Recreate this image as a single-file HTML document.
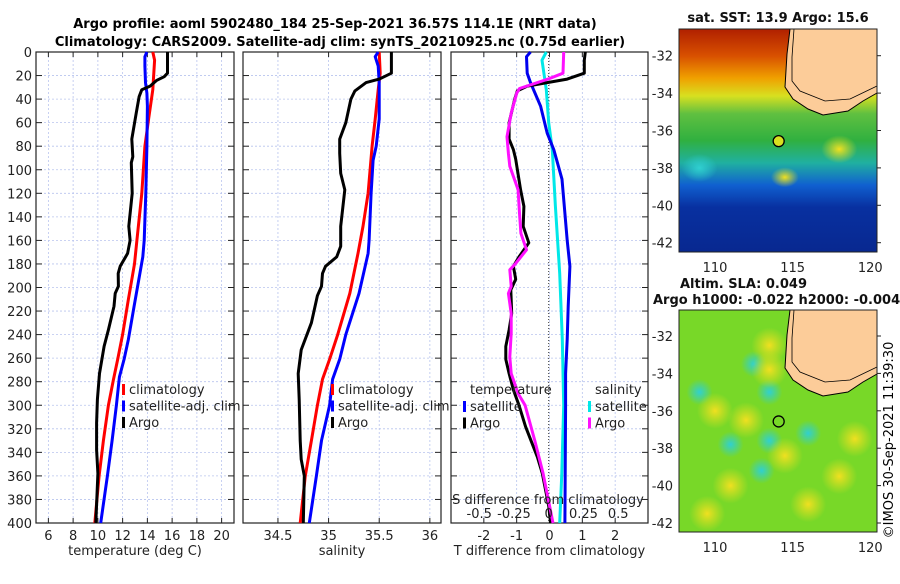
<!DOCTYPE html>
<html><head><meta charset="utf-8"><style>
body{margin:0;background:#fff;width:900px;height:580px;overflow:hidden;font-family:"DejaVu Sans","Liberation Sans",sans-serif}
svg text{font-family:"DejaVu Sans","Liberation Sans",sans-serif}
</style></head><body>
<svg id="c" width="900" height="580" viewBox="0 0 900 580" xmlns="http://www.w3.org/2000/svg">
<defs>
<linearGradient id="sstg" x1="0" y1="0" x2="0" y2="1">
<stop offset="0" stop-color="#b02000"/><stop offset="0.12" stop-color="#d85000"/><stop offset="0.22" stop-color="#f0a000"/><stop offset="0.3" stop-color="#d8e020"/><stop offset="0.38" stop-color="#60c040"/><stop offset="0.5" stop-color="#30b040"/><stop offset="0.6" stop-color="#20b0a0"/><stop offset="0.7" stop-color="#1060d0"/><stop offset="0.8" stop-color="#0830a0"/><stop offset="1" stop-color="#082890"/>
</linearGradient>
<radialGradient id="blobC"><stop offset="0" stop-color="#30d0d0"/><stop offset="1" stop-color="#30d0d0" stop-opacity="0"/></radialGradient>
<radialGradient id="blobY"><stop offset="0" stop-color="#f0e020"/><stop offset="1" stop-color="#e0e020" stop-opacity="0"/></radialGradient>
<radialGradient id="blobG"><stop offset="0" stop-color="#20a860"/><stop offset="1" stop-color="#20a860" stop-opacity="0"/></radialGradient>
</defs>
<text x="335" y="28" text-anchor="middle" font-size="13" font-weight="bold">Argo profile: aoml 5902480_184 25-Sep-2021 36.57S 114.1E (NRT data)</text>
<text x="340" y="46" text-anchor="middle" font-size="13" font-weight="bold">Climatology: CARS2009. Satellite-adj clim: synTS_20210925.nc (0.75d earlier)</text>
<g id="panels"></g>
<g id="maps"></g>
<text transform="translate(893,440) rotate(-90)" text-anchor="middle" font-size="13">©IMOS 30-Sep-2021 11:39:30</text>
</svg>
<script>
const NS="http://www.w3.org/2000/svg";
const depthTicks=[0,20,40,60,80,100,120,140,160,180,200,220,240,260,280,300,320,340,360,380,400];
// temperature (depth, value)
const tClimDepth=[0,7,32,57,80,120,160,180,210,240,261,278,300,330,360,400];
const tClimVal=[14.44,14.58,14.44,14.1,13.8,13.55,13.15,12.96,12.47,12.0,11.6,11.26,10.85,10.45,10.1,9.75];
const tSatDepth=[0,4,12,26,35,46,80,120,160,174,188,216,244,261,276,300,330,360,400];
const tSatVal=[13.96,13.8,13.8,13.85,13.96,14.0,13.96,13.87,13.74,13.63,13.4,12.93,12.47,12.12,11.74,11.5,11.15,10.77,10.23];
const tArgoDepth=[0,18,21,24,29,32,38,52,74,89,94,120,148,160,171,182,188,199,205,216,236,250,273,295,315,338,358,400];
const tArgoVal=[15.63,15.63,15.36,14.76,14.22,13.55,13.33,13.1,12.74,12.82,12.7,12.77,12.5,12.6,12.4,11.8,11.64,11.66,11.4,11.3,10.85,10.5,10.13,9.96,9.9,9.9,10.0,9.83];
// salinity
const sClimDepth=[0,18,32,57,80,120,148,171,205,240,261,278,300,330,360,400];
const sClimVal=[35.5,35.51,35.49,35.46,35.43,35.39,35.34,35.29,35.21,35.09,35.01,34.94,34.89,34.83,34.77,34.72];
const sSatDepth=[0,4,12,26,46,57,80,92,120,160,171,205,240,261,278,300,330,360,400];
const sSatVal=[35.49,35.46,35.49,35.5,35.5,35.5,35.47,35.44,35.42,35.4,35.39,35.3,35.17,35.11,35.04,35.01,34.93,34.88,34.81];
const sArgoDepth=[0,18,23,26,33,40,60,74,86,103,117,148,165,174,182,188,199,207,230,253,273,295,330,346,360,400];
const sArgoVal=[35.62,35.62,35.5,35.37,35.26,35.22,35.17,35.11,35.11,35.12,35.16,35.12,35.12,35.08,34.97,34.94,34.93,34.89,34.83,34.73,34.7,34.71,34.72,34.73,34.76,34.75];
// differences
const dTSatDepth=[0,4,18,26,46,69,83,108,131,160,182,216,244,273,300,400];
const dTSatVal=[-0.58,-0.7,-0.68,-0.58,-0.27,-0.07,0.13,0.38,0.45,0.54,0.62,0.57,0.54,0.49,0.49,0.47];
const dTArgoDepth=[0,7,18,23,29,33,40,60,74,83,91,117,131,148,162,174,182,193,202,222,236,250,261,273,287,300,318,344,358,386,400];
const dTArgoVal=[1.09,1.06,1.06,0.54,-0.68,-0.98,-1.06,-1.23,-1.23,-1.1,-1.03,-0.88,-0.78,-0.8,-0.63,-0.93,-1.1,-1.03,-1.18,-1.15,-1.23,-1.33,-1.33,-1.23,-1.1,-0.93,-0.73,-0.37,-0.22,-0.02,0.03];
const dSSatDepth=[0,7,32,60,83,131,188,244,300,358,400];
const dSSatVal=[-0.017,-0.048,-0.017,0,0.026,0.048,0.079,0.098,0.108,0.094,0.079];
const dSArgoDepth=[0,18,23,31,35,52,72,86,97,117,137,154,168,180,185,199,205,222,239,259,273,290,300,330,358,386,400];
const dSArgoVal=[0.108,0.103,-0.005,-0.21,-0.23,-0.27,-0.3,-0.29,-0.28,-0.22,-0.21,-0.2,-0.16,-0.24,-0.28,-0.27,-0.29,-0.27,-0.27,-0.28,-0.27,-0.22,-0.17,-0.1,-0.04,0.007,0.031];

const Y0=52,Y1=523;
const yS=d=>Y0+(Y1-Y0)*d/400;
function el(p,tag,a){const e=document.createElementNS(NS,tag);for(const k in a)e.setAttribute(k,a[k]);p.appendChild(e);return e;}
const G=document.getElementById('panels');

function panel(name,x0,x1,xmin,xmax,ticks,tickLabels,title,showY){
  const g=el(G,'g',{});
  
  
  const xs=v=>x0+(x1-x0)*(v-xmin)/(xmax-xmin);
  ticks.forEach((t,i)=>{
    const x=xs(t);
    const gl=el(g,'line',{x1:x,x2:x,y1:Y0,y2:Y1,stroke:'#b8c4ee','stroke-width':0.8,'stroke-dasharray':'2,2'});
    
    
    el(g,'line',{x1:x,x2:x,y1:Y1,y2:Y1-5,stroke:'#222'});
    el(g,'line',{x1:x,x2:x,y1:Y0,y2:Y0+5,stroke:'#222'});
    const tx=el(g,'text',{x:x,y:Y1+17,'text-anchor':'middle','font-size':13,fill:'#222'});
    tx.textContent=tickLabels[i];
    
    
  });
  depthTicks.forEach(d=>{
    const y=yS(d);
    el(g,'line',{x1:x0,x2:x1,y1:y,y2:y,stroke:'#b8c4ee','stroke-width':0.8,'stroke-dasharray':'2,2'});
    el(g,'line',{x1:x0,x2:x0+6,y1:y,y2:y,stroke:'#222'});
    el(g,'line',{x1:x1,x2:x1-6,y1:y,y2:y,stroke:'#222'});
    if(showY){const t=el(g,'text',{x:x0-4,y:y+5,'text-anchor':'end','font-size':13,fill:'#222'});t.textContent=d;
      
      }
  });
  el(g,'rect',{x:x0,y:Y0,width:x1-x0,height:Y1-Y0,fill:'none',stroke:'#222','stroke-width':1.2});
  const tt=el(g,'text',{x:(x0+x1)/2,y:555,'text-anchor':'middle','font-size':13,fill:'#222'});
  tt.textContent=title;
  
  
  return {g,xs};
}
function line(p,xs,ds,vs,col,name){
  const pts=ds.map((d,i)=>xs(vs[i]).toFixed(1)+','+yS(d).toFixed(1)).join(' ');
  const l=el(p.g,'polyline',{points:pts,fill:'none',stroke:col,'stroke-width':3,'stroke-linejoin':'round'});
  
  
}
function legend(p,x,y,items){
  items.forEach((it,i)=>{
    const yy=y+i*16.5;
    if(it[1]) el(p.g,'rect',{x:x,y:yy-10,width:3,height:11,fill:it[1]});
    const t=el(p.g,'text',{x:x+(it[1]?7:0),y:yy,'font-size':13,fill:'#222'});t.textContent=it[0];
    
    
  });
}
// Panel 1
const p1=panel('temperature-panel',36,234,5,21,[6,8,10,12,14,16,18,20],['6','8','10','12','14','16','18','20'],'temperature (deg C)',true);
line(p1,p1.xs,tClimDepth,tClimVal,'#ff0000','temp-climatology-line');
line(p1,p1.xs,tSatDepth,tSatVal,'#0000ff','temp-satellite-line');
line(p1,p1.xs,tArgoDepth,tArgoVal,'#000000','temp-argo-line');
legend(p1,122,394,[['climatology','#ff0000'],['satellite-adj. clim','#0000ff'],['Argo','#000']]);
// Panel 2
const p2=panel('salinity-panel',243,441,34.155,36.11,[34.5,35,35.5,36],['34.5','35','35.5','36'],'salinity',false);
line(p2,p2.xs,sClimDepth,sClimVal,'#ff0000','sal-climatology-line');
line(p2,p2.xs,sSatDepth,sSatVal,'#0000ff','sal-satellite-line');
line(p2,p2.xs,sArgoDepth,sArgoVal,'#000000','sal-argo-line');
legend(p2,331,394,[['climatology','#ff0000'],['satellite-adj. clim','#0000ff'],['Argo','#000']]);
// Panel 3
const p3=panel('difference-panel',451,648,-3,3,[-2,-1,0,1,2],['-2','-1','0','1','2'],'T difference from climatology',false);
const xS3=v=>548.7+v*139;
el(p3.g,'line',{x1:548.7,x2:548.7,y1:Y0,y2:Y1,stroke:'#333','stroke-width':1,'stroke-dasharray':'1,2'});
line(p3,xS3,dSSatDepth,dSSatVal,'#00e8e8','sdiff-satellite-line');
line(p3,p3.xs,dTSatDepth,dTSatVal,'#0000ee','tdiff-satellite-line');
line(p3,p3.xs,dTArgoDepth,dTArgoVal,'#000000','tdiff-argo-line');
line(p3,xS3,dSArgoDepth,dSArgoVal,'#ff10ff','sdiff-argo-line');
legend(p3,470,394,[['temperature',null]]);
legend(p3,463,411,[['satellite','#0000ff'],['Argo','#000']]);
legend(p3,595,394,[['salinity',null]]);
legend(p3,588,411,[['satellite','#00e8e8'],['Argo','#ff10ff']]);
const sdt=el(p3.g,'text',{x:548,y:504,'text-anchor':'middle','font-size':13,fill:'#222'});sdt.textContent='S difference from climatology';


[[-0.5,'-0.5'],[-0.25,'-0.25'],[0,'0'],[0.25,'0.25'],[0.5,'0.5']].forEach(a=>{
  const t=el(p3.g,'text',{x:xS3(a[0]),y:518,'text-anchor':'middle','font-size':13,fill:'#222'});t.textContent=a[1];
  
  
});

// Maps
const M=document.getElementById('maps');
function map(name,top,bottom,latY32,latY42,isSST,title){
  const g=el(M,'g',{});
  
  
  const x0=679,x1=877;
  const lx=lon=>715+(lon-110)*(155.3/10);
  const ly=lat=>latY32+(-32-lat)*(latY42-latY32)/10;
  if(isSST){
    el(g,'rect',{x:x0,y:top,width:x1-x0,height:bottom-top,fill:'url(#sstg)'});
    el(g,'ellipse',{cx:lx(114.5),cy:ly(-38.5),rx:14,ry:10,fill:'url(#blobY)'});
    el(g,'ellipse',{cx:lx(118),cy:ly(-37),rx:18,ry:14,fill:'url(#blobY)'});
    el(g,'ellipse',{cx:lx(109),cy:ly(-38),rx:18,ry:14,fill:'url(#blobC)'});
  } else {
    el(g,'rect',{x:x0,y:top,width:x1-x0,height:bottom-top,fill:'#78d828'});
    [[109,-35],[111,-37.8],[113.5,-37.6],[113,-39.2],[116,-37.2],[112.5,-33.5],[113.5,-35]].forEach(c=>el(g,'ellipse',{cx:lx(c[0]),cy:ly(c[1]),rx:13,ry:13,fill:'url(#blobC)'}));
    [[113.5,-32.5],[113.5,-33.8],[114.5,-38.4],[119,-37.5],[110,-36],[109.5,-41.5],[116,-41],[111,-40],[118,-39.5],[112,-36.5]].forEach(c=>el(g,'ellipse',{cx:lx(c[0]),cy:ly(c[1]),rx:18,ry:18,fill:'url(#blobY)'}));
  }
  // land
  const coast=[[790,top],[787,top+25],[785,top+58],[793,top+70],[808,top+80],[823,top+86],[848,top+82],[863,top+72],[877,top+64]];
  const land=el(g,'polygon',{points:coast.map(p=>p.join(',')).join(' ')+` ${x1},${top}`,fill:'#fccc99',stroke:'#000','stroke-width':1});
  
  
  el(g,'polyline',{points:[[794,top],[792,top+28],[792,top+52],[800,top+62],[825,top+72],[850,top+70],[877,top+57]].map(p=>p.join(',')).join(' '),fill:'none',stroke:'#000','stroke-width':0.8});
  const mk=el(g,'circle',{cx:lx(114.1),cy:ly(-36.57),r:5.5,fill:isSST?'#d8e020':'none',stroke:'#000','stroke-width':1.3});
  
  
  el(g,'rect',{x:x0,y:top,width:x1-x0,height:bottom-top,fill:'none',stroke:'#222'});
  [-32,-34,-36,-38,-40,-42].forEach(l=>{
    const y=ly(l);
    el(g,'line',{x1:x1,x2:x1+4,y1:y,y2:y,stroke:'#222'});
    const t=el(g,'text',{x:673,y:y+5,'text-anchor':'end','font-size':13,fill:'#222'});t.textContent=l;
    
    
  });
  [110,115,120].forEach(l=>{
    const t=el(g,'text',{x:lx(l),y:bottom+20,'text-anchor':'middle','font-size':13,fill:'#222'});t.textContent=l;
    
    
  });
  title.forEach((s,i)=>{
    const t=el(g,'text',{x:s[1],y:s[2],'text-anchor':s[3],'font-size':13,'font-weight':'bold',fill:'#111'});t.textContent=s[0];
    
    
  });
}
map('sst-map',29,252,55.7,242.7,true,[['sat. SST: 13.9 Argo: 15.6',778,22,'middle']]);
map('sla-map',310,532,336,523,false,[['Altim. SLA: 0.049',680,288,'start'],['Argo h1000: -0.022 h2000: -0.004',653,304,'start']]);
</script>
</body></html>
